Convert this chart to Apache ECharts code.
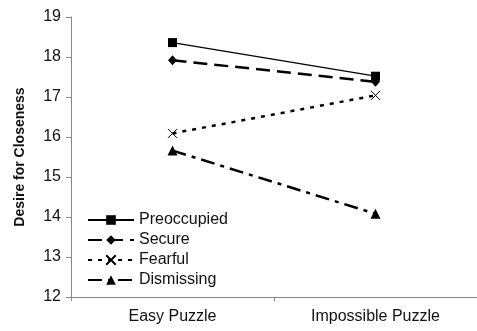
<!DOCTYPE html>
<html><head><meta charset="utf-8">
<script src="https://cdn.jsdelivr.net/npm/echarts@6/dist/echarts.min.js"></script>
<style>html,body{margin:0;padding:0;background:#fff}#c{width:477px;height:331px}</style>
</head><body><div id="c"></div>
<script>
const categories = ['Easy Puzzle', 'Impossible Puzzle'];
const seriesNames = ['Preoccupied', 'Secure', 'Fearful', 'Dismissing'];
const preoccupied = [18.36, 17.52];
const secure = [17.92, 17.38];
const fearful = [16.09, 17.04];
const dismissing = [15.66, 14.08];
const yTicks = {min: 12, max: 19, interval: 1};

const font = 'Liberation Sans, Arial, sans-serif';
const chart = echarts.init(document.getElementById('c'));
const base = {type: 'line', symbolSize: 9, z: 3};
chart.setOption({
  animation: false,
  backgroundColor: '#fff',
  grid: {left: 71, top: 17, bottom: 34, width: 410, containLabel: false},
  legend: {
    orient: 'vertical', left: 82, top: 206, itemWidth: 46, itemHeight: 12, itemGap: 2,
    textStyle: {fontFamily: font, fontSize: 16, color: '#111', lineHeight: 18},
    data: seriesNames
  },
  xAxis: {
    type: 'category', data: categories, boundaryGap: true,
    axisLine: {lineStyle: {color: '#888', width: 1}},
    axisTick: {show: true, inside: false, length: 4, lineStyle: {color: '#888'}},
    axisLabel: {fontFamily: font, fontSize: 16, color: '#111', margin: 12}
  },
  yAxis: {
    type: 'value', min: yTicks.min, max: yTicks.max, interval: yTicks.interval,
    name: 'Desire for Closeness', nameLocation: 'middle', nameGap: 44,
    nameTextStyle: {fontFamily: font, fontSize: 14, fontWeight: 'bold', color: '#111'},
    axisLine: {show: true, lineStyle: {color: '#888', width: 1}},
    axisTick: {show: true, inside: false, length: 5, lineStyle: {color: '#888'}},
    axisLabel: {fontFamily: font, fontSize: 16, color: '#111', margin: 10},
    splitLine: {show: false}
  },
  series: [
    Object.assign({}, base, {name: seriesNames[0], data: preoccupied, symbol: 'rect', symbolSize: 9,
      itemStyle: {color: '#000'}, lineStyle: {color: '#000', width: 1.2, type: 'solid'}}),
    Object.assign({}, base, {name: seriesNames[1], data: secure, symbol: 'diamond', symbolSize: [9, 10],
      itemStyle: {color: '#000'}, lineStyle: {color: '#000', width: 2.5, type: [14, 7]}}),
    Object.assign({}, base, {name: seriesNames[2], data: fearful, symbol: 'path://M0,0L10,10M10,0L0,10', symbolSize: 9,
      itemStyle: {color: 'none', borderColor: '#000', borderWidth: 1}, lineStyle: {color: '#000', width: 2.5, type: [4, 6]}}),
    Object.assign({}, base, {name: seriesNames[3], data: dismissing, symbol: 'triangle', symbolSize: 10,
      itemStyle: {color: '#000'}, lineStyle: {color: '#000', width: 2.5, type: [14, 6, 4, 6]}})
  ]
});
</script></body></html>
